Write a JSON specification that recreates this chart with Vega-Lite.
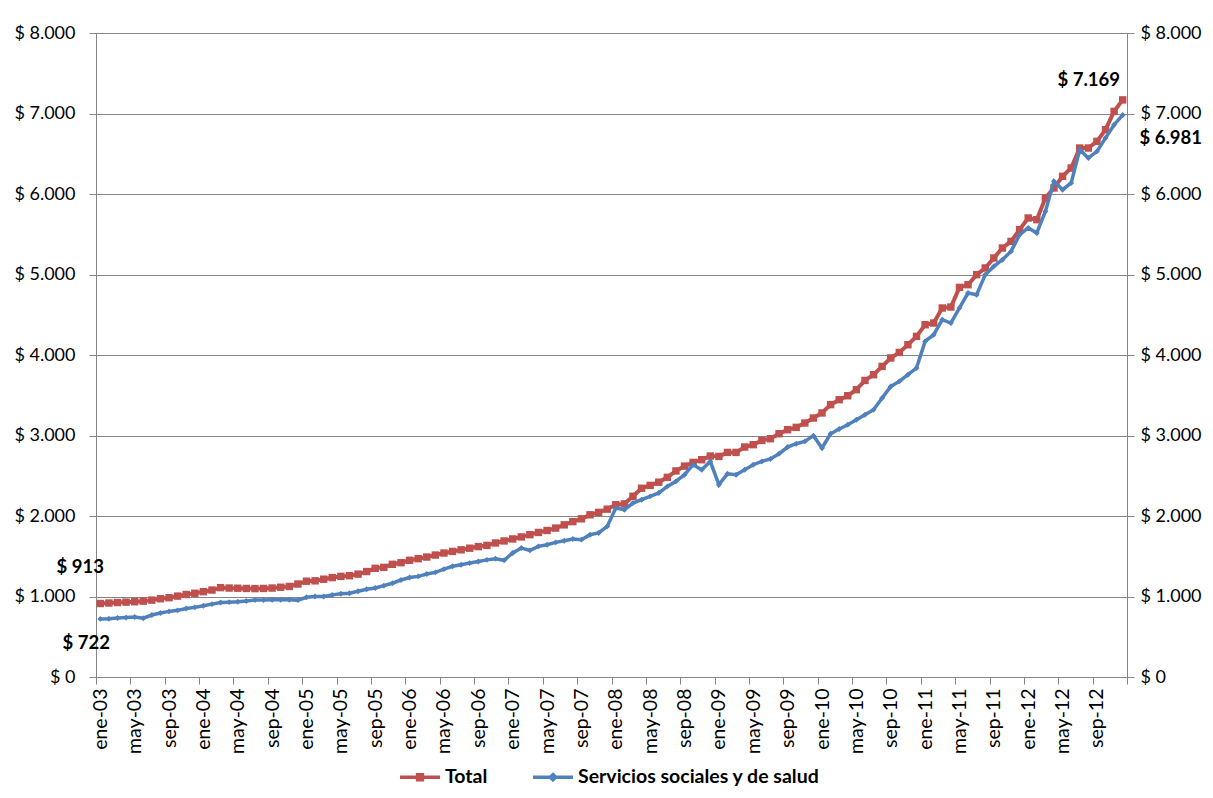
{
  "$schema": "https://vega.github.io/schema/vega-lite/v6.json",
  "width": 1031,
  "height": 644,
  "autosize": "none",
  "padding": {"left": 96, "top": 33, "right": 86, "bottom": 121},
  "background": "white",
  "config": {
    "view": {"stroke": "#868686", "strokeWidth": 1},
    "font": "Lato",
    "axis": {"labelFont": "Lato", "labelColor": "black", "labelFontSize": 18, "domainColor": "#868686", "tickColor": "#868686", "gridColor": "#868686", "tickSize": 7, "title": null},
    "axisX": {"labelOverlap": false, "labelBound": false, "labelFlush": false},
    "legend": {"layout": {"bottom": {"anchor": "middle"}}}
  },
  "datasets": {
    "mensual": [
      {"mes":0,"Total":913,"Servicios sociales  y de salud":722},
      {"mes":1,"Total":919,"Servicios sociales  y de salud":724},
      {"mes":2,"Total":925,"Servicios sociales  y de salud":733},
      {"mes":3,"Total":930,"Servicios sociales  y de salud":738},
      {"mes":4,"Total":935,"Servicios sociales  y de salud":745},
      {"mes":5,"Total":942,"Servicios sociales  y de salud":730},
      {"mes":6,"Total":955,"Servicios sociales  y de salud":770},
      {"mes":7,"Total":972,"Servicios sociales  y de salud":795},
      {"mes":8,"Total":985,"Servicios sociales  y de salud":815},
      {"mes":9,"Total":1005,"Servicios sociales  y de salud":828},
      {"mes":10,"Total":1025,"Servicios sociales  y de salud":850},
      {"mes":11,"Total":1040,"Servicios sociales  y de salud":865},
      {"mes":12,"Total":1060,"Servicios sociales  y de salud":885},
      {"mes":13,"Total":1080,"Servicios sociales  y de salud":905},
      {"mes":14,"Total":1110,"Servicios sociales  y de salud":925},
      {"mes":15,"Total":1105,"Servicios sociales  y de salud":930},
      {"mes":16,"Total":1103,"Servicios sociales  y de salud":935},
      {"mes":17,"Total":1100,"Servicios sociales  y de salud":945},
      {"mes":18,"Total":1098,"Servicios sociales  y de salud":955},
      {"mes":19,"Total":1100,"Servicios sociales  y de salud":955},
      {"mes":20,"Total":1105,"Servicios sociales  y de salud":960},
      {"mes":21,"Total":1115,"Servicios sociales  y de salud":960},
      {"mes":22,"Total":1125,"Servicios sociales  y de salud":960},
      {"mes":23,"Total":1155,"Servicios sociales  y de salud":955},
      {"mes":24,"Total":1190,"Servicios sociales  y de salud":990},
      {"mes":25,"Total":1195,"Servicios sociales  y de salud":1000},
      {"mes":26,"Total":1215,"Servicios sociales  y de salud":1000},
      {"mes":27,"Total":1235,"Servicios sociales  y de salud":1020},
      {"mes":28,"Total":1250,"Servicios sociales  y de salud":1035},
      {"mes":29,"Total":1258,"Servicios sociales  y de salud":1040},
      {"mes":30,"Total":1278,"Servicios sociales  y de salud":1065},
      {"mes":31,"Total":1310,"Servicios sociales  y de salud":1090},
      {"mes":32,"Total":1350,"Servicios sociales  y de salud":1105},
      {"mes":33,"Total":1362,"Servicios sociales  y de salud":1135},
      {"mes":34,"Total":1400,"Servicios sociales  y de salud":1165},
      {"mes":35,"Total":1420,"Servicios sociales  y de salud":1205},
      {"mes":36,"Total":1450,"Servicios sociales  y de salud":1235},
      {"mes":37,"Total":1470,"Servicios sociales  y de salud":1250},
      {"mes":38,"Total":1490,"Servicios sociales  y de salud":1280},
      {"mes":39,"Total":1515,"Servicios sociales  y de salud":1300},
      {"mes":40,"Total":1540,"Servicios sociales  y de salud":1340},
      {"mes":41,"Total":1560,"Servicios sociales  y de salud":1375},
      {"mes":42,"Total":1580,"Servicios sociales  y de salud":1395},
      {"mes":43,"Total":1600,"Servicios sociales  y de salud":1415},
      {"mes":44,"Total":1620,"Servicios sociales  y de salud":1435},
      {"mes":45,"Total":1635,"Servicios sociales  y de salud":1455},
      {"mes":46,"Total":1665,"Servicios sociales  y de salud":1470},
      {"mes":47,"Total":1690,"Servicios sociales  y de salud":1450},
      {"mes":48,"Total":1715,"Servicios sociales  y de salud":1540},
      {"mes":49,"Total":1740,"Servicios sociales  y de salud":1602},
      {"mes":50,"Total":1768,"Servicios sociales  y de salud":1573},
      {"mes":51,"Total":1796,"Servicios sociales  y de salud":1623},
      {"mes":52,"Total":1820,"Servicios sociales  y de salud":1643},
      {"mes":53,"Total":1850,"Servicios sociales  y de salud":1672},
      {"mes":54,"Total":1890,"Servicios sociales  y de salud":1693},
      {"mes":55,"Total":1930,"Servicios sociales  y de salud":1714},
      {"mes":56,"Total":1965,"Servicios sociales  y de salud":1706},
      {"mes":57,"Total":2015,"Servicios sociales  y de salud":1768},
      {"mes":58,"Total":2045,"Servicios sociales  y de salud":1789},
      {"mes":59,"Total":2085,"Servicios sociales  y de salud":1871},
      {"mes":60,"Total":2140,"Servicios sociales  y de salud":2099},
      {"mes":61,"Total":2150,"Servicios sociales  y de salud":2078},
      {"mes":62,"Total":2245,"Servicios sociales  y de salud":2161},
      {"mes":63,"Total":2345,"Servicios sociales  y de salud":2202},
      {"mes":64,"Total":2380,"Servicios sociales  y de salud":2244},
      {"mes":65,"Total":2420,"Servicios sociales  y de salud":2286},
      {"mes":66,"Total":2480,"Servicios sociales  y de salud":2368},
      {"mes":67,"Total":2560,"Servicios sociales  y de salud":2430},
      {"mes":68,"Total":2620,"Servicios sociales  y de salud":2513},
      {"mes":69,"Total":2666,"Servicios sociales  y de salud":2637},
      {"mes":70,"Total":2699,"Servicios sociales  y de salud":2575},
      {"mes":71,"Total":2745,"Servicios sociales  y de salud":2678},
      {"mes":72,"Total":2740,"Servicios sociales  y de salud":2389},
      {"mes":73,"Total":2790,"Servicios sociales  y de salud":2525},
      {"mes":74,"Total":2790,"Servicios sociales  y de salud":2513},
      {"mes":75,"Total":2857,"Servicios sociales  y de salud":2575},
      {"mes":76,"Total":2886,"Servicios sociales  y de salud":2637},
      {"mes":77,"Total":2939,"Servicios sociales  y de salud":2678},
      {"mes":78,"Total":2960,"Servicios sociales  y de salud":2708},
      {"mes":79,"Total":3022,"Servicios sociales  y de salud":2774},
      {"mes":80,"Total":3072,"Servicios sociales  y de salud":2857},
      {"mes":81,"Total":3101,"Servicios sociales  y de salud":2898},
      {"mes":82,"Total":3155,"Servicios sociales  y de salud":2927},
      {"mes":83,"Total":3217,"Servicios sociales  y de salud":2998},
      {"mes":84,"Total":3280,"Servicios sociales  y de salud":2845},
      {"mes":85,"Total":3383,"Servicios sociales  y de salud":3022},
      {"mes":86,"Total":3445,"Servicios sociales  y de salud":3081},
      {"mes":87,"Total":3494,"Servicios sociales  y de salud":3134},
      {"mes":88,"Total":3569,"Servicios sociales  y de salud":3196},
      {"mes":89,"Total":3684,"Servicios sociales  y de salud":3258},
      {"mes":90,"Total":3755,"Servicios sociales  y de salud":3320},
      {"mes":91,"Total":3858,"Servicios sociales  y de salud":3466},
      {"mes":92,"Total":3963,"Servicios sociales  y de salud":3610},
      {"mes":93,"Total":4032,"Servicios sociales  y de salud":3672},
      {"mes":94,"Total":4128,"Servicios sociales  y de salud":3755},
      {"mes":95,"Total":4231,"Servicios sociales  y de salud":3838},
      {"mes":96,"Total":4376,"Servicios sociales  y de salud":4169},
      {"mes":97,"Total":4397,"Servicios sociales  y de salud":4252},
      {"mes":98,"Total":4584,"Servicios sociales  y de salud":4438},
      {"mes":99,"Total":4596,"Servicios sociales  y de salud":4397},
      {"mes":100,"Total":4840,"Servicios sociales  y de salud":4584},
      {"mes":101,"Total":4873,"Servicios sociales  y de salud":4770},
      {"mes":102,"Total":4998,"Servicios sociales  y de salud":4749},
      {"mes":103,"Total":5081,"Servicios sociales  y de salud":4998},
      {"mes":104,"Total":5205,"Servicios sociales  y de salud":5101},
      {"mes":105,"Total":5329,"Servicios sociales  y de salud":5184},
      {"mes":106,"Total":5411,"Servicios sociales  y de salud":5287},
      {"mes":107,"Total":5557,"Servicios sociales  y de salud":5494},
      {"mes":108,"Total":5702,"Servicios sociales  y de salud":5578},
      {"mes":109,"Total":5681,"Servicios sociales  y de salud":5516},
      {"mes":110,"Total":5950,"Servicios sociales  y de salud":5784},
      {"mes":111,"Total":6075,"Servicios sociales  y de salud":6157},
      {"mes":112,"Total":6219,"Servicios sociales  y de salud":6053},
      {"mes":113,"Total":6323,"Servicios sociales  y de salud":6137},
      {"mes":114,"Total":6571,"Servicios sociales  y de salud":6550},
      {"mes":115,"Total":6571,"Servicios sociales  y de salud":6447},
      {"mes":116,"Total":6654,"Servicios sociales  y de salud":6529},
      {"mes":117,"Total":6799,"Servicios sociales  y de salud":6696},
      {"mes":118,"Total":7026,"Servicios sociales  y de salud":6861},
      {"mes":119,"Total":7169,"Servicios sociales  y de salud":6981}
    ]
  },
  "encoding": {
    "x": {
      "field": "mes", "type": "quantitative",
      "scale": {"domain": [-0.5, 119.5], "nice": false, "zero": false},
      "axis": {
        "values": [-0.5, 3.5, 7.5, 11.5, 15.5, 19.5, 23.5, 27.5, 31.5, 35.5, 39.5, 43.5, 47.5, 51.5, 55.5, 59.5, 63.5, 67.5, 71.5, 75.5, 79.5, 83.5, 87.5, 91.5, 95.5, 99.5, 103.5, 107.5, 111.5, 115.5, 119.5],
        "labelExpr": "datum.value > 119 ? '' : ['ene','feb','mar','abr','may','jun','jul','ago','sep','oct','nov','dic'][round(datum.value + 0.5) % 12] + '-' + (round(datum.value + 0.5) < 84 ? '0' : '') + floor(3 + round(datum.value + 0.5) / 12)",
        "labelAngle": 270,
        "labelFontSize": 19.5,
        "labelOffset": 4.3,
        "labelPadding": 4,
        "labelOverlap": false,
        "labelBound": false,
        "labelFlush": false,
        "labelSeparation": 0,
        "grid": false,
        "title": null
      }
    }
  },
  "layer": [
    {
      "data": {"name": "mensual"},
      "transform": [
        {"fold": ["Total", "Servicios sociales  y de salud"], "as": ["serie", "valor"]},
        {"filter": "datum.serie === 'Total'"}
      ],
      "mark": {"type": "line", "strokeWidth": 4, "point": {"shape": "square", "size": 55, "filled": true}},
      "encoding": {
        "y": {
          "field": "valor", "type": "quantitative",
          "scale": {"domain": [0, 8000], "nice": false},
          "axis": {
            "orient": "left",
            "values": [0, 1000, 2000, 3000, 4000, 5000, 6000, 7000, 8000],
            "labelExpr": "'$ ' + replace(format(datum.value, ','), ',', '.')",
            "labelPadding": 14,
            "grid": true,
            "gridColor": "#868686",
            "title": null
          }
        },
        "color": {
          "field": "serie", "type": "nominal",
          "scale": {"domain": ["Total", "Servicios sociales  y de salud"], "range": ["#C0504D", "#4F81BD"]},
          "legend": {
            "orient": "bottom",
            "direction": "horizontal",
            "title": null,
            "labelFont": "Lato",
            "labelFontWeight": "bold",
            "labelFontSize": 19.5,
            "labelColor": "black",
            "labelLimit": 0,
            "labelOffset": 3,
            "symbolType": "M-1,0H1M-0.12,-0.12H0.12V0.12H-0.12Z",
            "symbolSize": 1600,
            "symbolStrokeWidth": 3.5,
            "columnPadding": 38,
            "offset": 1,
            "encode": {
              "symbols": {
                "update": {
                  "shape": {"signal": "datum.value === 'Total' ? 'M-1,0H1M-0.12,-0.12H0.12V0.12H-0.12Z' : 'M-1,0H1M0,-0.13L0.13,0L0,0.13L-0.13,0Z'"}
                }
              }
            }
          }
        }
      }
    },
    {
      "data": {"name": "mensual"},
      "transform": [
        {"fold": ["Total", "Servicios sociales  y de salud"], "as": ["serie", "valor"]},
        {"filter": "datum.serie !== 'Total'"}
      ],
      "mark": {"type": "line", "strokeWidth": 3.5, "point": {"shape": "diamond", "size": 35, "filled": true}},
      "encoding": {
        "y": {
          "field": "valor", "type": "quantitative",
          "axis": {
            "orient": "right",
            "values": [0, 1000, 2000, 3000, 4000, 5000, 6000, 7000, 8000],
            "labelExpr": "'$ ' + replace(format(datum.value, ','), ',', '.')",
            "labelPadding": 6,
            "grid": false,
            "title": null
          }
        },
        "color": {"field": "serie", "type": "nominal"}
      }
    },
    {
      "data": {"values": [{"mes": 0, "valor": 913, "texto": "$ 913"}]},
      "mark": {"type": "text", "dx": -20, "dy": -37, "font": "Lato", "fontWeight": "bold", "fontSize": 18.5, "color": "black", "align": "center", "baseline": "middle"},
      "encoding": {
        "y": {"field": "valor", "type": "quantitative", "axis": null},
        "text": {"field": "texto"}
      }
    },
    {
      "data": {"values": [{"mes": 0, "valor": 722, "texto": "$ 722"}]},
      "mark": {"type": "text", "dx": -14, "dy": 24, "font": "Lato", "fontWeight": "bold", "fontSize": 18.5, "color": "black", "align": "center", "baseline": "middle"},
      "encoding": {
        "y": {"field": "valor", "type": "quantitative", "axis": null},
        "text": {"field": "texto"}
      }
    },
    {
      "data": {"values": [{"mes": 119, "valor": 7169, "texto": "$ 7.169"}]},
      "mark": {"type": "text", "dx": -34, "dy": -20, "font": "Lato", "fontWeight": "bold", "fontSize": 18.5, "color": "black", "align": "center", "baseline": "middle"},
      "encoding": {
        "y": {"field": "valor", "type": "quantitative", "axis": null},
        "text": {"field": "texto"}
      }
    },
    {
      "data": {"values": [{"mes": 119, "valor": 6981, "texto": "$ 6.981"}]},
      "mark": {"type": "text", "dx": 48, "dy": 23, "font": "Lato", "fontWeight": "bold", "fontSize": 18.5, "color": "black", "align": "center", "baseline": "middle"},
      "encoding": {
        "y": {"field": "valor", "type": "quantitative", "axis": null},
        "text": {"field": "texto"}
      }
    }
  ],
  "resolve": {"axis": {"y": "independent"}}
}
